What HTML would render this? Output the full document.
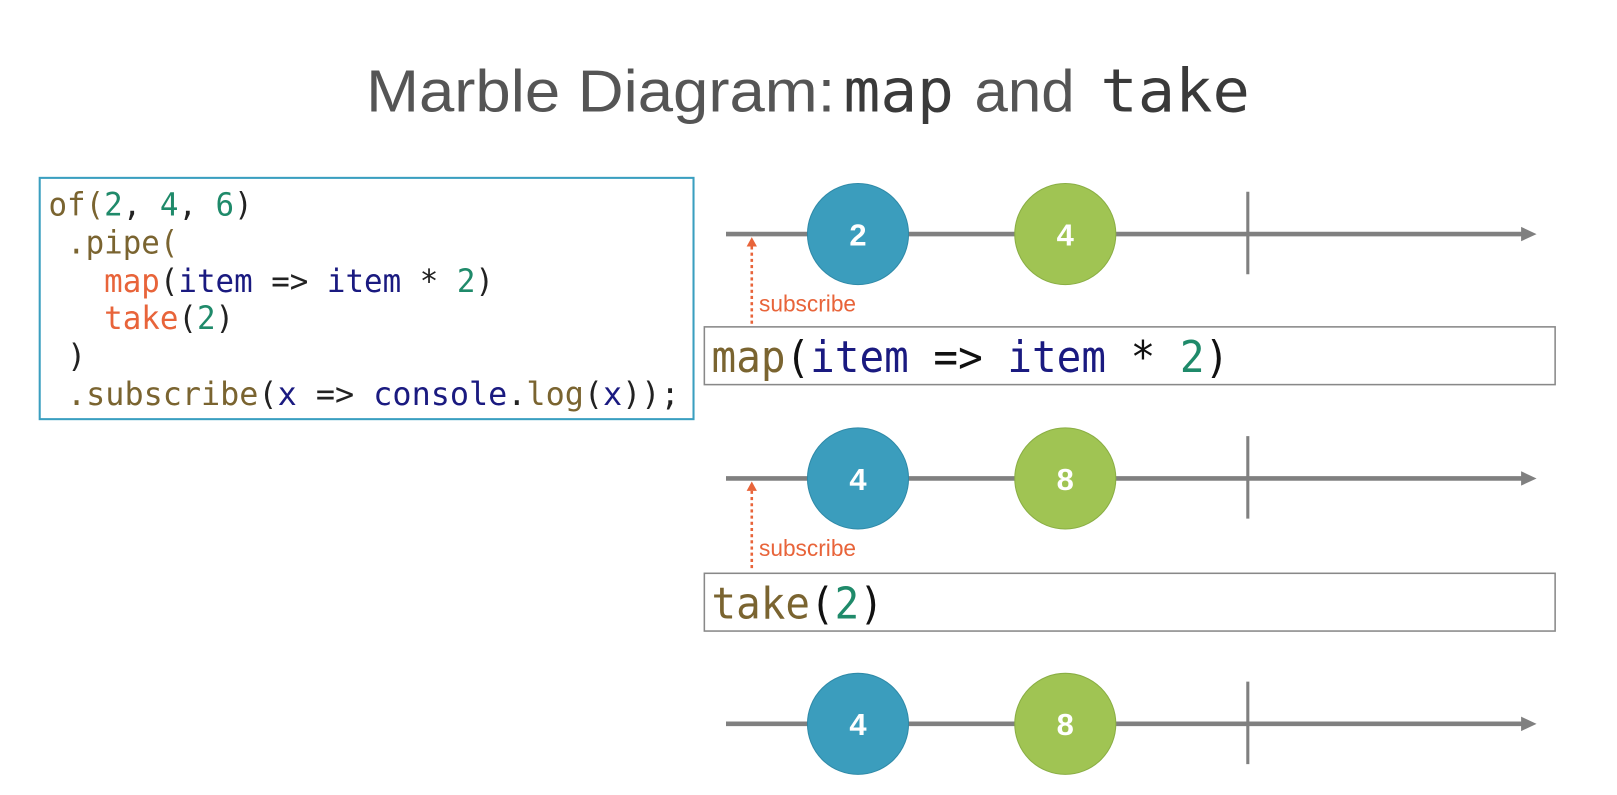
<!DOCTYPE html>
<html><head><meta charset="utf-8"><style>
html,body{margin:0;padding:0;background:#fff;overflow:hidden}
svg{display:block}
.m{font-family:"DejaVu Sans Mono","Liberation Mono",monospace}
.s{font-family:"Liberation Sans",sans-serif}
</style></head><body>
<svg width="1617" height="795" viewBox="0 0 1568 771" preserveAspectRatio="none" xmlns="http://www.w3.org/2000/svg">
<rect width="1568" height="771" fill="#fff"/>
<g font-size="58">
<text class="s" x="355" y="108" textLength="455" lengthAdjust="spacingAndGlyphs" fill="#555">Marble Diagram:</text>
<text class="m" x="818" y="108" textLength="107" lengthAdjust="spacingAndGlyphs" font-weight="500" fill="#3a3a3a">map</text>
<text class="s" x="945" y="108" textLength="97" lengthAdjust="spacingAndGlyphs" fill="#555">and</text>
<text class="m" x="1067" y="108" textLength="145" lengthAdjust="spacingAndGlyphs" font-weight="500" fill="#3a3a3a">take</text>
</g>
<rect x="38.5" y="172.5" width="634" height="234" fill="#fff" stroke="#3a9fc0" stroke-width="2"/>
<g class="m" font-size="31">
<text x="47" y="209" textLength="198" lengthAdjust="spacingAndGlyphs"><tspan fill="#7a6430">of(</tspan><tspan fill="#1f8a6a">2</tspan><tspan fill="#222">, </tspan><tspan fill="#1f8a6a">4</tspan><tspan fill="#222">, </tspan><tspan fill="#1f8a6a">6</tspan><tspan fill="#222">)</tspan></text>
<text x="65" y="246" textLength="108" lengthAdjust="spacingAndGlyphs" fill="#7a6430">.pipe(</text>
<text x="101" y="283" textLength="378" lengthAdjust="spacingAndGlyphs"><tspan fill="#e8643a">map</tspan><tspan fill="#222">(</tspan><tspan fill="#1a1a80">item</tspan><tspan fill="#222"> =&gt; </tspan><tspan fill="#1a1a80">item</tspan><tspan fill="#222"> * </tspan><tspan fill="#1f8a6a">2</tspan><tspan fill="#222">)</tspan></text>
<text x="101" y="319" textLength="126" lengthAdjust="spacingAndGlyphs"><tspan fill="#e8643a">take</tspan><tspan fill="#222">(</tspan><tspan fill="#1f8a6a">2</tspan><tspan fill="#222">)</tspan></text>
<text x="65" y="356" fill="#222">)</text>
<text x="65" y="393" textLength="594" lengthAdjust="spacingAndGlyphs"><tspan fill="#7a6430">.subscribe</tspan><tspan fill="#222">(</tspan><tspan fill="#1a1a80">x</tspan><tspan fill="#222"> =&gt; </tspan><tspan fill="#1a1a80">console</tspan><tspan fill="#222">.</tspan><tspan fill="#7a6430">log</tspan><tspan fill="#222">(</tspan><tspan fill="#1a1a80">x</tspan><tspan fill="#222">));</tspan></text>
</g>
<rect x="683" y="317" width="825" height="56" fill="#fff" stroke="#888" stroke-width="1.5"/>
<text class="m" x="690" y="361" font-size="42" textLength="502" lengthAdjust="spacingAndGlyphs"><tspan fill="#7a6430">map</tspan><tspan fill="#111">(</tspan><tspan fill="#1a1a80">item</tspan><tspan fill="#111"> =&gt; </tspan><tspan fill="#1a1a80">item</tspan><tspan fill="#111"> * </tspan><tspan fill="#1f8a6a">2</tspan><tspan fill="#111">)</tspan></text>
<rect x="683" y="556" width="825" height="56" fill="#fff" stroke="#888" stroke-width="1.5"/>
<text class="m" x="690" y="600" font-size="42" textLength="167" lengthAdjust="spacingAndGlyphs"><tspan fill="#7a6430">take</tspan><tspan fill="#111">(</tspan><tspan fill="#1f8a6a">2</tspan><tspan fill="#111">)</tspan></text>

<g transform="translate(0,227)">
<line x1="704" y1="0" x2="1477" y2="0" stroke="#808080" stroke-width="4.5"/>
<polygon points="1475,-7 1490,0 1475,7" fill="#808080"/>
<line x1="1210" y1="-41" x2="1210" y2="39" stroke="#808080" stroke-width="3"/>
<circle cx="832" cy="0" r="49" fill="#3b9dbd" stroke="#2f8aa8" stroke-width="1"/>
<circle cx="1033" cy="0" r="49" fill="#a0c453" stroke="#8aae44" stroke-width="1"/>
<text class="s" x="832" y="11" font-size="30" font-weight="bold" fill="#fff" text-anchor="middle">2</text>
<text class="s" x="1033" y="11" font-size="30" font-weight="bold" fill="#fff" text-anchor="middle">4</text>
<line x1="729" y1="12" x2="729" y2="88" stroke="#e8643a" stroke-width="2.5" stroke-dasharray="3,3"/>
<polygon points="724,12 729,3 734,12" fill="#e8643a"/>
<text class="s" x="736" y="75" font-size="22" fill="#e8643a">subscribe</text>
</g>
<g transform="translate(0,464)">
<line x1="704" y1="0" x2="1477" y2="0" stroke="#808080" stroke-width="4.5"/>
<polygon points="1475,-7 1490,0 1475,7" fill="#808080"/>
<line x1="1210" y1="-41" x2="1210" y2="39" stroke="#808080" stroke-width="3"/>
<circle cx="832" cy="0" r="49" fill="#3b9dbd" stroke="#2f8aa8" stroke-width="1"/>
<circle cx="1033" cy="0" r="49" fill="#a0c453" stroke="#8aae44" stroke-width="1"/>
<text class="s" x="832" y="11" font-size="30" font-weight="bold" fill="#fff" text-anchor="middle">4</text>
<text class="s" x="1033" y="11" font-size="30" font-weight="bold" fill="#fff" text-anchor="middle">8</text>
<line x1="729" y1="12" x2="729" y2="88" stroke="#e8643a" stroke-width="2.5" stroke-dasharray="3,3"/>
<polygon points="724,12 729,3 734,12" fill="#e8643a"/>
<text class="s" x="736" y="75" font-size="22" fill="#e8643a">subscribe</text>
</g>
<g transform="translate(0,702)">
<line x1="704" y1="0" x2="1477" y2="0" stroke="#808080" stroke-width="4.5"/>
<polygon points="1475,-7 1490,0 1475,7" fill="#808080"/>
<line x1="1210" y1="-41" x2="1210" y2="39" stroke="#808080" stroke-width="3"/>
<circle cx="832" cy="0" r="49" fill="#3b9dbd" stroke="#2f8aa8" stroke-width="1"/>
<circle cx="1033" cy="0" r="49" fill="#a0c453" stroke="#8aae44" stroke-width="1"/>
<text class="s" x="832" y="11" font-size="30" font-weight="bold" fill="#fff" text-anchor="middle">4</text>
<text class="s" x="1033" y="11" font-size="30" font-weight="bold" fill="#fff" text-anchor="middle">8</text>
</g>
</svg>
</body></html>
